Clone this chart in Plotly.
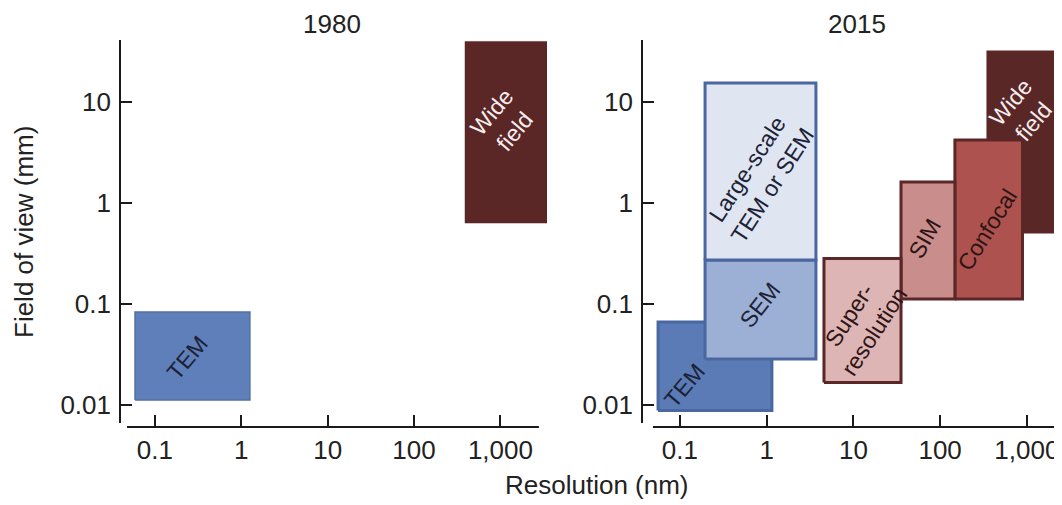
import numpy as np
import plotly.graph_objects as go

# ---------------- data ----------------
# each technique: resolution range (nm) and field-of-view range (mm)
techs_1980 = ["Wide field", "TEM"]
res_lo_1980 = [389, 0.059]
res_hi_1980 = [3500, 1.26]
fov_lo_1980 = [0.637, 0.0113]
fov_hi_1980 = [40, 0.084]
label_res_1980 = [1070, 0.236]
label_fov_1980 = [6.4, 0.0294]
labels_1980 = ["Wide<br>field", "TEM"]

techs_2015 = ["Wide field", "Confocal", "SIM", "Super-resolution", "TEM", "SEM",
              "Large-scale TEM or SEM"]
res_lo_2015 = [356, 148, 35.4, 4.58, 0.056, 0.195, 0.195]
res_hi_2015 = [4000, 890, 148, 35.4, 1.15, 3.7, 3.7]
fov_lo_2015 = [0.519, 0.113, 0.113, 0.0168, 0.00887, 0.0287, 0.274]
fov_hi_2015 = [31.4, 4.23, 1.62, 0.284, 0.0667, 0.274, 15.5]
label_res_2015 = [879, 347, 66.8, 12.6, 0.114, 0.838, 0.838]
label_fov_2015 = [8.0, 0.543, 0.453, 0.065, 0.0159, 0.0984, 1.82]
labels_2015 = ["Wide<br>field", "Confocal", "SIM", "Super-<br>resolution", "TEM", "SEM",
               "Large-scale<br>TEM or SEM"]

x_tickvals = [0.1, 1, 10, 100, 1000]
x_ticktext = ["0.1", "1", "10", "100", "1,000"]
y_tickvals = [0.01, 0.1, 1, 10]
y_ticktext = ["0.01", "0.1", "1", "10"]

# ---------------- styles ----------------
fill_1980 = {"Wide field": "#5b2626", "TEM": "#5f7fba"}
line_1980 = {"Wide field": "#5b2626", "TEM": "#53709f"}
lw_1980 = {"Wide field": 0.5, "TEM": 1.5}
fill_2015 = {"Wide field": "#5a2727", "Confocal": "#ad524f", "SIM": "#c98d8c",
             "Super-resolution": "#dcb5b4", "TEM": "#5b7bb6", "SEM": "#9cb0d6",
             "Large-scale TEM or SEM": "#dfe5f1"}
line_2015 = {"Wide field": "#5a2727", "Confocal": "#5a2626", "SIM": "#5a2626",
             "Super-resolution": "#5a2626", "TEM": "#4a67a0", "SEM": "#4a67a0",
             "Large-scale TEM or SEM": "#4a67a0"}
text_col = {"Wide field": "#f6eeee", "Confocal": "#2e1414", "SIM": "#2e1414",
            "Super-resolution": "#2e1414", "TEM": "#1c2235", "SEM": "#1c2235",
            "Large-scale TEM or SEM": "#1c2235"}
text_angle = {"Wide field": -50, "Confocal": -58, "SIM": -60,
              "Super-resolution": -57, "TEM": -50, "SEM": -52,
              "Large-scale TEM or SEM": -57}

FONT = "Liberation Sans, Arial, Helvetica, sans-serif"
OFF = 8                    # page body margin
FW, FH = 1062 - OFF, 505 - OFF


def px(x):
    return (x - OFF) / FW


def py(y):
    return 1 - (y - OFF) / FH


fig = go.Figure()


def add_box(name, x0, x1, y0, y1, fill, line, lw, xa, ya):
    fig.add_trace(go.Scatter(
        x=[x0, x1, x1, x0, x0], y=[y0, y0, y1, y1, y0],
        mode="lines", fill="toself", fillcolor=fill,
        line=dict(color=line, width=lw), name=name,
        hoverinfo="skip", showlegend=False, xaxis=xa, yaxis=ya))


for i, t in enumerate(techs_1980):
    add_box(t, res_lo_1980[i], res_hi_1980[i], fov_lo_1980[i], fov_hi_1980[i],
            fill_1980[t], line_1980[t], lw_1980[t], "x", "y")
for i, t in enumerate(techs_2015):
    add_box(t, res_lo_2015[i], res_hi_2015[i], fov_lo_2015[i], fov_hi_2015[i],
            fill_2015[t], line_2015[t], 3, "x2", "y2")

annotations = []
for i, t in enumerate(techs_1980):
    annotations.append(dict(
        x=np.log10(label_res_1980[i]), y=np.log10(label_fov_1980[i]),
        xref="x", yref="y", text=labels_1980[i], showarrow=False,
        xanchor="center", yanchor="middle",
        textangle=text_angle[t], font=dict(family=FONT, size=23, color=text_col[t])))
for i, t in enumerate(techs_2015):
    annotations.append(dict(
        x=np.log10(label_res_2015[i]), y=np.log10(label_fov_2015[i]),
        xref="x2", yref="y2", text=labels_2015[i], showarrow=False,
        xanchor="center", yanchor="middle",
        textangle=text_angle[t], font=dict(family=FONT, size=23, color=text_col[t])))

title_font = dict(family=FONT, size=26, color="#222")
annotations += [
    dict(text="1980", x=px(332), y=py(24), xref="paper", yref="paper",
         xanchor="center", yanchor="middle", showarrow=False, font=title_font),
    dict(text="2015", x=px(857), y=py(24), xref="paper", yref="paper",
         xanchor="center", yanchor="middle", showarrow=False, font=title_font),
    dict(text="Field of view (mm)", x=px(24), y=py(232), xref="paper",
         yref="paper", xanchor="center", yanchor="middle", showarrow=False,
         textangle=-90, font=title_font),
    dict(text="Resolution (nm)", x=px(597), y=py(485), xref="paper",
         yref="paper", xanchor="center", yanchor="middle", showarrow=False,
         font=title_font),
]

# detached axis lines
shapes = []
for xr, yr, xleft, xright in [("x", "y", 0.0164, 0.981), ("x2", "y2", 0.026, 1.0)]:
    shapes.append(dict(type="line", xref=f"{xr} domain", yref=f"{yr} domain",
                       x0=0, x1=0, y0=0.0103, y1=0.995,
                       line=dict(color="#1a1a1a", width=2)))
    shapes.append(dict(type="line", xref=f"{xr} domain", yref=f"{yr} domain",
                       x0=xleft, x1=xright, y0=0, y1=0,
                       line=dict(color="#1a1a1a", width=2)))

ydom = [py(427), py(38)]
tick_font = dict(family=FONT, size=26, color="#222")
xaxis_common = dict(type="log", tickvals=x_tickvals, ticktext=x_ticktext,
                    ticks="inside", ticklen=12, tickwidth=2, tickcolor="#1a1a1a",
                    showline=False, showgrid=False, zeroline=False,
                    tickfont=tick_font, ticklabelstandoff=5, fixedrange=True)
yaxis_common = dict(type="log", tickvals=y_tickvals, ticktext=y_ticktext,
                    ticks="inside", ticklen=12, tickwidth=2, tickcolor="#1a1a1a",
                    showline=False, showgrid=False, zeroline=False,
                    tickfont=tick_font, ticklabelstandoff=8,
                    range=[-2.215, 1.636], domain=ydom, fixedrange=True)

fig.update_layout(
    width=FW, height=FH, margin=dict(l=0, r=0, t=0, b=0),
    paper_bgcolor="white", plot_bgcolor="white", showlegend=False,
    xaxis=dict(domain=[px(120), px(547)], range=[-1.403, 3.539], anchor="y",
               **xaxis_common),
    yaxis=dict(anchor="x", **yaxis_common),
    xaxis2=dict(domain=[px(642), 1.0], range=[-1.437, 3.405], anchor="y2",
                **xaxis_common),
    yaxis2=dict(anchor="x2", **yaxis_common),
    annotations=annotations, shapes=shapes,
)

fig.write_html("out.html", config={"displayModeBar": False})
